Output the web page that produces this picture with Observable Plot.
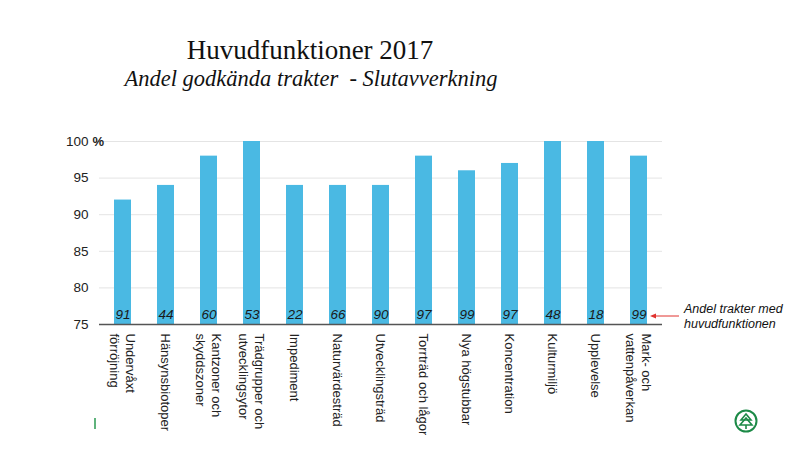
<!DOCTYPE html>
<html>
<head>
<meta charset="utf-8">
<script src="https://cdn.jsdelivr.net/npm/d3@7"></script>
<script src="https://cdn.jsdelivr.net/npm/@observablehq/plot@0.6"></script>
<style>
  body { margin: 0; background: #fff; }
  #wrap { position: relative; width: 800px; height: 450px; overflow: hidden; background: #fff; }
  #title { position: absolute; left: 0; width: 620px; top: 35px; text-align: center;
           font-family: "Liberation Serif", "DejaVu Serif", serif; font-size: 27px; color: #111; }
  #subtitle { position: absolute; left: 0; width: 622px; top: 66px; text-align: center;
           font-family: "Liberation Serif", "DejaVu Serif", serif; font-style: italic; font-size: 22.5px; color: #111; white-space: pre; }
  #chart { position: absolute; left: 0; top: 0; }
  #deco { position: absolute; left: 0; top: 0; pointer-events: none; }
</style>
</head>
<body>
<div id="wrap">
  <div id="chart"></div>
  <div id="title">Huvudfunktioner 2017</div>
  <div id="subtitle">Andel godkända trakter  - Slutavverkning</div>
  <svg id="deco" width="800" height="450">
    <line x1="679" y1="316" x2="654" y2="316" stroke="#e0322f" stroke-width="1"/>
    <path d="M650,316 L656,313.5 L656,318.5 Z" fill="#e0322f"/>
    <text x="684" y="313" font-family="Liberation Sans, Arial, sans-serif" font-style="italic" font-size="12.5" fill="#111">Andel trakter med</text>
    <text x="684" y="328" font-family="Liberation Sans, Arial, sans-serif" font-style="italic" font-size="12.5" fill="#111">huvudfunktionen</text>
    <line x1="95" y1="418" x2="95" y2="429" stroke="#2a9a50" stroke-width="1.5"/>
    <g transform="translate(746,421)" stroke="#1c8a47" fill="none" stroke-width="2">
      <circle r="10.5"/>
      <path d="M0,-7 L-5,-1 L5,-1 Z" stroke-width="1.6"/>
      <path d="M0,-3 L-6,4 L6,4 Z" stroke-width="1.6"/>
      <line x1="0" y1="4" x2="0" y2="8" stroke-width="1.6"/>
    </g>
  </svg>
</div>
<script>
const categories = [
  "Undervåxt\nförröjning",
  "Hänsynsbiotoper",
  "Kantzoner och\nskyddszoner",
  "Trädgrupper och\nutvecklingsytor",
  "Impediment",
  "Naturvärdesträd",
  "Utvecklingsträd",
  "Torrträd och lågor",
  "Nya högstubbar",
  "Koncentration",
  "Kulturmiljö",
  "Upplevelse",
  "Mark- och\nvattenpåverkan"
];
const approvedPct = [92, 94, 98, 100, 94, 94, 94, 98, 96, 97, 100, 100, 98];
const sharePct = [91, 44, 60, 53, 22, 66, 90, 97, 99, 97, 48, 18, 99];
const yTicks = [75, 80, 85, 90, 95, 100];

const data = categories.map((c, i) => ({cat: c, value: approvedPct[i], share: sharePct[i]}));

const font = "Liberation Sans, Arial, sans-serif";

const chart = Plot.plot({
  width: 800,
  height: 450,
  marginTop: 141,
  marginBottom: 126,
  marginLeft: 99,
  marginRight: 138,
  style: {fontFamily: font, fontSize: "13px", color: "#222", background: "transparent"},
  x: {domain: categories, paddingInner: 0.608, paddingOuter: 0.304, axis: null},
  y: {domain: [75, 100], ticks: yTicks, axis: null},
  marks: [
    Plot.gridY(yTicks, {stroke: "#e4e4e4", strokeOpacity: 1, strokeWidth: 1}),
    Plot.axisY(yTicks, {tickSize: 0, tickPadding: 11, fontSize: 13.5, fill: "#222", label: null}),
    Plot.text([100], {y: d => d, text: () => "%", frameAnchor: "left", textAnchor: "start", dx: -7, fontSize: 13, fontWeight: "bold", fill: "#222"}),
    Plot.barY(data, {x: "cat", y1: 75, y2: "value", fill: "#4ab9e3"}),
    Plot.ruleY([75], {stroke: "#555", strokeWidth: 1.6}),
    Plot.text(data, {x: "cat", y: () => 75, text: d => String(d.share), dy: -10, fontStyle: "italic", fontSize: 13.5, fill: "#1a1a1a"}),
    Plot.text(data, {x: "cat", text: "cat", frameAnchor: "bottom", rotate: 90, textAnchor: "start", lineAnchor: "middle", lineHeight: 1.25, dy: 9, fontSize: 13, fill: "#222"})
  ]
});
document.getElementById("chart").appendChild(chart);
</script>
</body>
</html>
